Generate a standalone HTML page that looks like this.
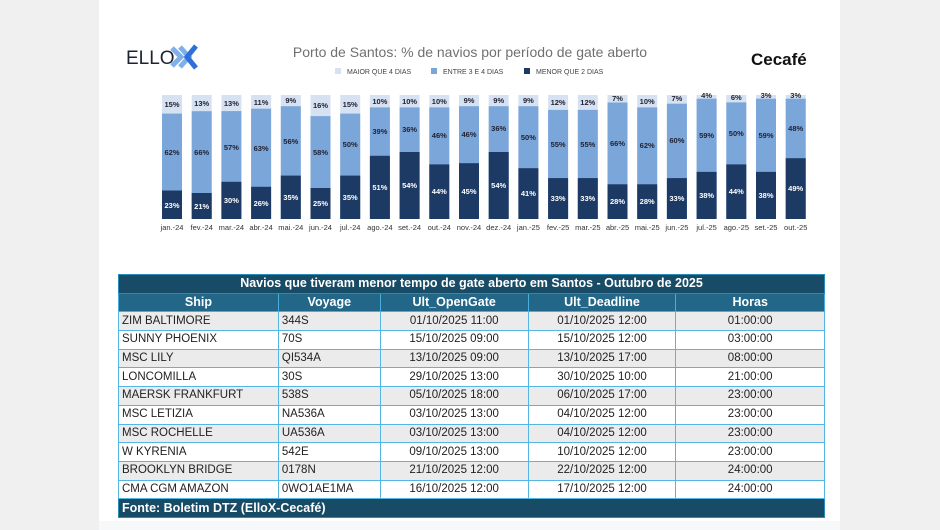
<!DOCTYPE html>
<html><head><meta charset="utf-8"><style>
body{margin:0;width:940px;height:530px;background:#f0f0f0;position:relative;overflow:hidden;font-family:"Liberation Sans",sans-serif}
#panel{position:absolute;left:99px;top:0;width:741px;height:530px;background:#fff}
#panel2{position:absolute;left:99px;top:521px;width:741px;height:9px;background:#f7f8fa}
table{position:absolute;left:118px;top:274px;width:707px;border-collapse:collapse;font-size:11.5px;color:#222}
td{border:1px solid #55b6e4;height:17.7px;padding:0 3px;line-height:17px;white-space:nowrap}
tr.t td{background:#174b66;color:#fff;font-weight:bold;text-align:center;font-size:12.5px;border-color:#2a8ab8}
tr.h td{background:#226688;color:#fff;font-weight:bold;text-align:center;font-size:12.5px;border-color:#4aaedb}
tr.g td{background:#ebebeb}
tr.f td{background:#174b66;color:#fff;font-weight:bold;font-size:12.5px;border-color:#2a8ab8}
td.c{text-align:center}
</style></head><body>
<div id="panel"></div><div id="panel2"></div>
<svg width="940" height="260" style="position:absolute;left:0;top:0" font-family="Liberation Sans, sans-serif">
<text x="126" y="64" font-size="19" fill="#1c2430">ELLO</text>
<path d="M172 48 l9 9 -9 9 M180 47 l9 10 -9 10" stroke="#7fb0ea" stroke-width="5" fill="none"/>
<path d="M196 46 l-9 11 9 11" stroke="#2f6fd8" stroke-width="5" fill="none"/>
<text x="470" y="57" font-size="14" fill="#707070" text-anchor="middle">Porto de Santos: % de navios por período de gate aberto</text>
<text x="751" y="65" font-size="17" font-weight="bold" fill="#111">Cecafé</text>
<g font-size="7" fill="#444">
<rect x="335" y="68" width="6" height="6" fill="#d6e2f2"/><text x="347" y="74">MAIOR QUE 4 DIAS</text>
<rect x="431" y="68" width="6" height="6" fill="#7aa6da"/><text x="443" y="74">ENTRE 3 E 4 DIAS</text>
<rect x="524" y="68" width="6" height="6" fill="#1d3a64"/><text x="536" y="74">MENOR QUE 2 DIAS</text>
</g>
<g font-size="7.5" font-weight="bold" text-anchor="middle">
<g transform="translate(162)"><rect y="95" width="20" height="124" fill="#d6e2f2"/><rect y="113.6" width="20" height="105.4" fill="#7aa6da"/><rect y="190.5" width="20" height="28.5" fill="#1d3a64"/><text x="10" y="107" fill="#223">15%</text><text x="10" y="155" fill="#223">62%</text><text x="10" y="208" fill="#fff">23%</text><text x="10" y="230" font-weight="normal" fill="#333">jan.-24</text></g>
<g transform="translate(191.7)"><rect y="95" width="20" height="124" fill="#d6e2f2"/><rect y="111.2" width="20" height="107.8" fill="#7aa6da"/><rect y="193" width="20" height="26" fill="#1d3a64"/><text x="10" y="106" fill="#223">13%</text><text x="10" y="155" fill="#223">66%</text><text x="10" y="209" fill="#fff">21%</text><text x="10" y="230" font-weight="normal" fill="#333">fev.-24</text></g>
<g transform="translate(221.4)"><rect y="95" width="20" height="124" fill="#d6e2f2"/><rect y="111.1" width="20" height="107.9" fill="#7aa6da"/><rect y="181.8" width="20" height="37.2" fill="#1d3a64"/><text x="10" y="106" fill="#223">13%</text><text x="10" y="150" fill="#223">57%</text><text x="10" y="203" fill="#fff">30%</text><text x="10" y="230" font-weight="normal" fill="#333">mar.-24</text></g>
<g transform="translate(251.1)"><rect y="95" width="20" height="124" fill="#d6e2f2"/><rect y="108.7" width="20" height="110.3" fill="#7aa6da"/><rect y="186.8" width="20" height="32.2" fill="#1d3a64"/><text x="10" y="105" fill="#223">11%</text><text x="10" y="151" fill="#223">63%</text><text x="10" y="206" fill="#fff">26%</text><text x="10" y="230" font-weight="normal" fill="#333">abr.-24</text></g>
<g transform="translate(280.8)"><rect y="95" width="20" height="124" fill="#d6e2f2"/><rect y="106.2" width="20" height="112.8" fill="#7aa6da"/><rect y="175.6" width="20" height="43.4" fill="#1d3a64"/><text x="10" y="103" fill="#223">9%</text><text x="10" y="144" fill="#223">56%</text><text x="10" y="200" fill="#fff">35%</text><text x="10" y="230" font-weight="normal" fill="#333">mai.-24</text></g>
<g transform="translate(310.5)"><rect y="95" width="20" height="124" fill="#d6e2f2"/><rect y="116.1" width="20" height="102.9" fill="#7aa6da"/><rect y="188" width="20" height="31" fill="#1d3a64"/><text x="10" y="108" fill="#223">16%</text><text x="10" y="155" fill="#223">58%</text><text x="10" y="206" fill="#fff">25%</text><text x="10" y="230" font-weight="normal" fill="#333">jun.-24</text></g>
<g transform="translate(340.2)"><rect y="95" width="20" height="124" fill="#d6e2f2"/><rect y="113.6" width="20" height="105.4" fill="#7aa6da"/><rect y="175.6" width="20" height="43.4" fill="#1d3a64"/><text x="10" y="107" fill="#223">15%</text><text x="10" y="147" fill="#223">50%</text><text x="10" y="200" fill="#fff">35%</text><text x="10" y="230" font-weight="normal" fill="#333">jul.-24</text></g>
<g transform="translate(369.9)"><rect y="95" width="20" height="124" fill="#d6e2f2"/><rect y="107.4" width="20" height="111.6" fill="#7aa6da"/><rect y="155.8" width="20" height="63.2" fill="#1d3a64"/><text x="10" y="104" fill="#223">10%</text><text x="10" y="134" fill="#223">39%</text><text x="10" y="190" fill="#fff">51%</text><text x="10" y="230" font-weight="normal" fill="#333">ago.-24</text></g>
<g transform="translate(399.6)"><rect y="95" width="20" height="124" fill="#d6e2f2"/><rect y="107.4" width="20" height="111.6" fill="#7aa6da"/><rect y="152" width="20" height="67" fill="#1d3a64"/><text x="10" y="104" fill="#223">10%</text><text x="10" y="132" fill="#223">36%</text><text x="10" y="188" fill="#fff">54%</text><text x="10" y="230" font-weight="normal" fill="#333">set.-24</text></g>
<g transform="translate(429.3)"><rect y="95" width="20" height="124" fill="#d6e2f2"/><rect y="107.4" width="20" height="111.6" fill="#7aa6da"/><rect y="164.4" width="20" height="54.6" fill="#1d3a64"/><text x="10" y="104" fill="#223">10%</text><text x="10" y="138" fill="#223">46%</text><text x="10" y="194" fill="#fff">44%</text><text x="10" y="230" font-weight="normal" fill="#333">out.-24</text></g>
<g transform="translate(459)"><rect y="95" width="20" height="124" fill="#d6e2f2"/><rect y="106.2" width="20" height="112.8" fill="#7aa6da"/><rect y="163.2" width="20" height="55.8" fill="#1d3a64"/><text x="10" y="103" fill="#223">9%</text><text x="10" y="137" fill="#223">46%</text><text x="10" y="194" fill="#fff">45%</text><text x="10" y="230" font-weight="normal" fill="#333">nov.-24</text></g>
<g transform="translate(488.7)"><rect y="95" width="20" height="124" fill="#d6e2f2"/><rect y="106.2" width="20" height="112.8" fill="#7aa6da"/><rect y="152" width="20" height="67" fill="#1d3a64"/><text x="10" y="103" fill="#223">9%</text><text x="10" y="131" fill="#223">36%</text><text x="10" y="188" fill="#fff">54%</text><text x="10" y="230" font-weight="normal" fill="#333">dez.-24</text></g>
<g transform="translate(518.4)"><rect y="95" width="20" height="124" fill="#d6e2f2"/><rect y="106.2" width="20" height="112.8" fill="#7aa6da"/><rect y="168.2" width="20" height="50.8" fill="#1d3a64"/><text x="10" y="103" fill="#223">9%</text><text x="10" y="140" fill="#223">50%</text><text x="10" y="196" fill="#fff">41%</text><text x="10" y="230" font-weight="normal" fill="#333">jan.-25</text></g>
<g transform="translate(548.1)"><rect y="95" width="20" height="124" fill="#d6e2f2"/><rect y="109.9" width="20" height="109.1" fill="#7aa6da"/><rect y="178.1" width="20" height="40.9" fill="#1d3a64"/><text x="10" y="105" fill="#223">12%</text><text x="10" y="147" fill="#223">55%</text><text x="10" y="201" fill="#fff">33%</text><text x="10" y="230" font-weight="normal" fill="#333">fev.-25</text></g>
<g transform="translate(577.8)"><rect y="95" width="20" height="124" fill="#d6e2f2"/><rect y="109.9" width="20" height="109.1" fill="#7aa6da"/><rect y="178.1" width="20" height="40.9" fill="#1d3a64"/><text x="10" y="105" fill="#223">12%</text><text x="10" y="147" fill="#223">55%</text><text x="10" y="201" fill="#fff">33%</text><text x="10" y="230" font-weight="normal" fill="#333">mar.-25</text></g>
<g transform="translate(607.5)"><rect y="95" width="20" height="124" fill="#d6e2f2"/><rect y="102.5" width="20" height="116.5" fill="#7aa6da"/><rect y="184.3" width="20" height="34.7" fill="#1d3a64"/><text x="10" y="101" fill="#223">7%</text><text x="10" y="146" fill="#223">66%</text><text x="10" y="204" fill="#fff">28%</text><text x="10" y="230" font-weight="normal" fill="#333">abr.-25</text></g>
<g transform="translate(637.2)"><rect y="95" width="20" height="124" fill="#d6e2f2"/><rect y="107.4" width="20" height="111.6" fill="#7aa6da"/><rect y="184.3" width="20" height="34.7" fill="#1d3a64"/><text x="10" y="104" fill="#223">10%</text><text x="10" y="148" fill="#223">62%</text><text x="10" y="204" fill="#fff">28%</text><text x="10" y="230" font-weight="normal" fill="#333">mai.-25</text></g>
<g transform="translate(666.9)"><rect y="95" width="20" height="124" fill="#d6e2f2"/><rect y="103.7" width="20" height="115.3" fill="#7aa6da"/><rect y="178.1" width="20" height="40.9" fill="#1d3a64"/><text x="10" y="101" fill="#223">7%</text><text x="10" y="143" fill="#223">60%</text><text x="10" y="201" fill="#fff">33%</text><text x="10" y="230" font-weight="normal" fill="#333">jun.-25</text></g>
<g transform="translate(696.6)"><rect y="95" width="20" height="124" fill="#d6e2f2"/><rect y="98.7" width="20" height="120.3" fill="#7aa6da"/><rect y="171.9" width="20" height="47.1" fill="#1d3a64"/><text x="10" y="98" fill="#223">4%</text><text x="10" y="138" fill="#223">59%</text><text x="10" y="198" fill="#fff">38%</text><text x="10" y="230" font-weight="normal" fill="#333">jul.-25</text></g>
<g transform="translate(726.3)"><rect y="95" width="20" height="124" fill="#d6e2f2"/><rect y="102.4" width="20" height="116.6" fill="#7aa6da"/><rect y="164.4" width="20" height="54.6" fill="#1d3a64"/><text x="10" y="100" fill="#223">6%</text><text x="10" y="136" fill="#223">50%</text><text x="10" y="194" fill="#fff">44%</text><text x="10" y="230" font-weight="normal" fill="#333">ago.-25</text></g>
<g transform="translate(756)"><rect y="95" width="20" height="124" fill="#d6e2f2"/><rect y="98.7" width="20" height="120.3" fill="#7aa6da"/><rect y="171.9" width="20" height="47.1" fill="#1d3a64"/><text x="10" y="98" fill="#223">3%</text><text x="10" y="138" fill="#223">59%</text><text x="10" y="198" fill="#fff">38%</text><text x="10" y="230" font-weight="normal" fill="#333">set.-25</text></g>
<g transform="translate(785.7)"><rect y="95" width="20" height="124" fill="#d6e2f2"/><rect y="98.7" width="20" height="120.3" fill="#7aa6da"/><rect y="158.2" width="20" height="60.8" fill="#1d3a64"/><text x="10" y="98" fill="#223">3%</text><text x="10" y="131" fill="#223">48%</text><text x="10" y="191" fill="#fff">49%</text><text x="10" y="230" font-weight="normal" fill="#333">out.-25</text></g>
</g>
</svg>
<table>
<colgroup><col style="width:160px"><col style="width:102px"><col style="width:148px"><col style="width:148px"><col style="width:149px"></colgroup>
<tr class="t"><td colspan="5">Navios que tiveram menor tempo de gate aberto em Santos - Outubro de 2025</td></tr>
<tr class="h"><td>Ship</td><td>Voyage</td><td>Ult_OpenGate</td><td>Ult_Deadline</td><td>Horas</td></tr>
<tr class="g"><td>ZIM BALTIMORE</td><td>344S</td><td class="c">01/10/2025 11:00</td><td class="c">01/10/2025 12:00</td><td class="c">01:00:00</td></tr>
<tr><td>SUNNY PHOENIX</td><td>70S</td><td class="c">15/10/2025 09:00</td><td class="c">15/10/2025 12:00</td><td class="c">03:00:00</td></tr>
<tr class="g"><td>MSC LILY</td><td>QI534A</td><td class="c">13/10/2025 09:00</td><td class="c">13/10/2025 17:00</td><td class="c">08:00:00</td></tr>
<tr><td>LONCOMILLA</td><td>30S</td><td class="c">29/10/2025 13:00</td><td class="c">30/10/2025 10:00</td><td class="c">21:00:00</td></tr>
<tr class="g"><td>MAERSK FRANKFURT</td><td>538S</td><td class="c">05/10/2025 18:00</td><td class="c">06/10/2025 17:00</td><td class="c">23:00:00</td></tr>
<tr><td>MSC LETIZIA</td><td>NA536A</td><td class="c">03/10/2025 13:00</td><td class="c">04/10/2025 12:00</td><td class="c">23:00:00</td></tr>
<tr class="g"><td>MSC ROCHELLE</td><td>UA536A</td><td class="c">03/10/2025 13:00</td><td class="c">04/10/2025 12:00</td><td class="c">23:00:00</td></tr>
<tr><td>W KYRENIA</td><td>542E</td><td class="c">09/10/2025 13:00</td><td class="c">10/10/2025 12:00</td><td class="c">23:00:00</td></tr>
<tr class="g"><td>BROOKLYN BRIDGE</td><td>0178N</td><td class="c">21/10/2025 12:00</td><td class="c">22/10/2025 12:00</td><td class="c">24:00:00</td></tr>
<tr><td>CMA CGM AMAZON</td><td>0WO1AE1MA</td><td class="c">16/10/2025 12:00</td><td class="c">17/10/2025 12:00</td><td class="c">24:00:00</td></tr>
<tr class="f"><td colspan="5">Fonte: Boletim DTZ (ElloX-Cecafé)</td></tr>
</table>
</body></html>
